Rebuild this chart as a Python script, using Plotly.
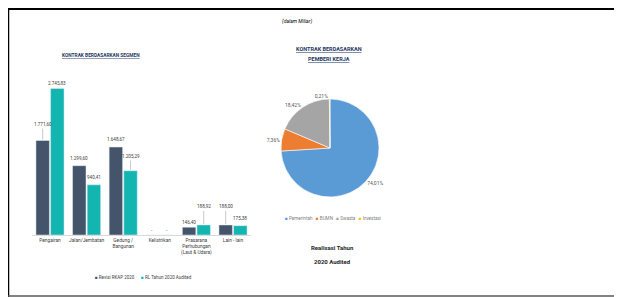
import plotly.graph_objects as go

# ---- data ----
categories = ["Pengairan", "Jalan/Jembatan", "Gedung /<br>Bangunan", "Kelistrikan",
              "Prasarana<br>Perhubungan<br>(Laut & Udara)", "Lain - lain"]
revisi_rkap_2020 = [1771.60, 1299.60, 1648.67, 0, 146.40, 188.00]
rl_2020_audited = [2745.83, 940.41, 1205.29, 0, 188.92, 175.38]

pie_labels = ["Pemerintah", "BUMN", "Swasta", "Investasi"]
pie_values = [74.01, 7.36, 18.42, 0.21]

series_names = ["Revisi RKAP 2020", "RL Tahun 2020 Audited"]

# ---- styles ----
bar_colors = ["#44546A", "#13B5B1"]
pie_colors = ["#5B9BD5", "#ED7D31", "#A5A5A5", "#FFC000"]
# vertical offset (px) of each data label above its bar; big ones get a leader line
label_dy = [[-16, -7, -8, -5, -5, -18],
            [-5, -7, -14, -5, -18, -7]]
group_shift = [-7.3, 7.3]

FONT = "Roboto, Liberation Sans, Arial"

# page has an 8px body margin: size the figure so it fits the 622x297 window
OFF = 8
W, H = 622 - OFF, 297 - OFF


def px(x):
    return (x - OFF) / W


def py(y):
    return 1 - (y - OFF) / H


def fmt(v):
    if v == 0:
        return "-"
    return f"{v:,.2f}".replace(",", "X").replace(".", ",").replace("X", ".")


fig = go.Figure()
series = [revisi_rkap_2020, rl_2020_audited]
for name, vals, col in zip(series_names, series, bar_colors):
    fig.add_trace(go.Bar(
        x=categories, y=vals, name=name, marker_color=col,
        cliponaxis=False, showlegend=False,
    ))

fig.add_trace(go.Pie(
    labels=pie_labels, values=pie_values, sort=False, direction="clockwise",
    rotation=0, marker=dict(colors=pie_colors, line=dict(color="white", width=0.6)),
    text=[f"{p:.2f}%".replace(".", ",") for p in pie_values],
    texttemplate="%{text}", textposition="outside",
    textfont=dict(size=5, color="#595959", family=FONT),
    domain=dict(x=[px(281), px(379)], y=[py(197), py(99)]),
    showlegend=False, hoverinfo="label+percent", automargin=False,
))

fig.update_layout(
    width=W, height=H,
    margin=dict(l=0, r=0, t=0, b=0, pad=0, autoexpand=False),
    paper_bgcolor="white", plot_bgcolor="white",
    barmode="group", bargap=0.2, bargroupgap=0.08,
    font=dict(family=FONT, size=5, color="#404040"),
    xaxis=dict(domain=[px(31.7), px(251.3)], showline=True, linecolor="#D9D9D9",
               linewidth=1, ticks="", tickfont=dict(size=4.8, color="#404040"),
               automargin=False, fixedrange=True),
    yaxis=dict(domain=[py(235), py(75)], range=[0, 3000], visible=False,
               showgrid=False, zeroline=False, automargin=False),
)

annotations = []
# data labels (anchored on data values through the axes)
for s, vals in enumerate(series):
    for i, v in enumerate(vals):
        dy = label_dy[s][i]
        a = dict(x=categories[i], y=v, xref="x", yref="y", text=fmt(v), xshift=group_shift[s],
                 font=dict(size=4.6, color="#404040"))
        if abs(dy) >= 12:
            a.update(showarrow=True, ax=0, ay=dy, arrowhead=0, arrowwidth=0.6,
                     arrowcolor="#A6A6A6", standoff=1)
        else:
            a.update(showarrow=False, yshift=-dy, xanchor="center", yanchor="middle")
        annotations.append(a)

# text legends
leg1 = (f"<span style='color:{bar_colors[0]}'>■</span> {series_names[0]}"
        f"      <span style='color:{bar_colors[1]}'>■</span> {series_names[1]}")
leg2 = "   ".join(f"<span style='color:{c}'>■</span> {l}" for c, l in zip(pie_colors, pie_labels))

texts = [
    dict(text="<i>(dalam Miliar)</i>", x=px(297), y=py(22), font=dict(size=5, color="#000000")),
    dict(text="<b><u>KONTRAK BERDASARKAN SEGMEN</u></b>", x=px(101), y=py(55),
         font=dict(size=4.8, color="#1F3864")),
    dict(text="<b><u>KONTRAK BERDASARKAN</u></b>", x=px(329), y=py(49),
         font=dict(size=5.5, color="#1F3864")),
    dict(text="<b><u>PEMBERI KERJA</u></b>", x=px(329), y=py(59),
         font=dict(size=5.5, color="#1F3864")),
    dict(text=leg1, x=px(143), y=py(277), font=dict(size=4.5, color="#404040")),
    dict(text=leg2, x=px(333), y=py(218), font=dict(size=4.6, color="#7F7F7F")),
    dict(text="<b>Realisasi Tahun</b>", x=px(332), y=py(247), font=dict(size=6, color="#262626")),
    dict(text="<b>2020 Audited</b>", x=px(332), y=py(261), font=dict(size=6, color="#262626")),
]
for a in texts:
    a.update(xref="paper", yref="paper", showarrow=False, xanchor="center", yanchor="middle")
fig.update_layout(annotations=annotations + texts)

# frame lines (as close to the page edge as the figure allows)
shapes = [
    dict(type="line", xref="paper", yref="paper", x0=0, x1=1, y0=1 - 1 / H, y1=1 - 1 / H,
         line=dict(color="black", width=2)),
    dict(type="line", xref="paper", yref="paper", x0=0.5 / W, x1=0.5 / W, y0=0, y1=1,
         line=dict(color="black", width=1.5)),
    dict(type="line", xref="paper", yref="paper", x0=0, x1=1, y0=1 / H, y1=1 / H,
         line=dict(color="#595959", width=1.5)),
]
fig.update_layout(shapes=shapes)

fig.write_html("out.html")
